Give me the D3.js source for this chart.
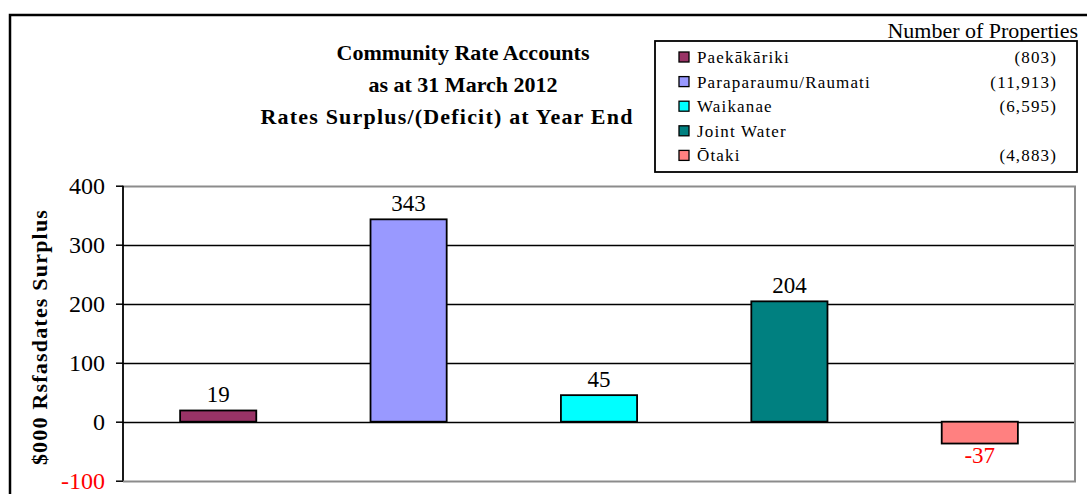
<!DOCTYPE html>
<html><head><meta charset="utf-8">
<script src="https://cdn.jsdelivr.net/npm/d3@7"></script>
<style>body{margin:0;background:#fff}svg{display:block}svg text{font-family:"Liberation Serif","Times New Roman",serif !important}</style>
</head><body><svg id="c" width="1087" height="494"></svg>
<script>
const categories = ["Paekākāriki","Paraparaumu/Raumati","Waikanae","Joint Water","Ōtaki"];
const values = [19, 343, 45, 204, -37];
const properties = ["(803)","(11,913)","(6,595)","","(4,883)"];
const colors = ["#993366","#9999FF","#00FFFF","#008080","#FF8080"];
const yTicks = [-100, 0, 100, 200, 300, 400];
const titleLines = ["Community Rate Accounts","as at 31 March 2012","Rates Surplus/(Deficit) at Year End"];

const FONT = "'Liberation Serif', 'Times New Roman', serif";
const svg = d3.select("#c");
// outer border
svg.append("path").attr("d","M10,1000 V15 H1200").attr("fill","none").attr("stroke","#000").attr("stroke-width",2.5);

const L=123, R=1075, T=185.7, B=480.7;
const x = d3.scaleBand().domain(categories).range([L,R]).paddingInner(0.6).paddingOuter(0.3);
const y = d3.scaleLinear().domain([-100,400]).range([B,T]);

// grid
svg.append("g").selectAll("line").data(yTicks.filter(v=>v>-100&&v<400)).join("line")
  .attr("x1",L).attr("x2",R).attr("y1",d=>Math.round(y(d))+0.5).attr("y2",d=>Math.round(y(d))+0.5)
  .attr("stroke","#000").attr("stroke-width",1.3);
// plot border (grey)
svg.append("path").attr("d",`M${L},${Math.round(T)+0.5} H${R} V${Math.round(B)+0.5} H${L}`)
  .attr("fill","none").attr("stroke","#8c8c8c").attr("stroke-width",2);

// bars
svg.append("g").selectAll("rect").data(values).join("rect")
  .attr("x",(d,i)=>x(categories[i])).attr("width",x.bandwidth())
  .attr("y",d=>y(Math.max(0,d))).attr("height",d=>Math.abs(y(d)-y(0)))
  .attr("fill",(d,i)=>colors[i]).attr("stroke","#000").attr("stroke-width",1.8);

// y axis
const ax = svg.append("g").attr("transform",`translate(${L},0)`)
  .call(d3.axisLeft(y).tickValues(yTicks).tickSize(7).tickPadding(11).tickFormat(d=>String(d)));
ax.attr("font-family",null).attr("font-size",null);
ax.select(".domain").attr("stroke","#000").attr("stroke-width",1.8).attr("d",`M0,${T}V${B}`);
ax.selectAll(".tick line").attr("stroke","#000").attr("stroke-width",1.5);
ax.selectAll(".tick text").style("font-size","24px").style("font-family",FONT)
  .attr("fill",d=>d<0?"#ff0000":"#000");

// labels
svg.append("g").selectAll("text").data(values).join("text")
  .attr("x",(d,i)=>x(categories[i])+x.bandwidth()/2)
  .attr("y",d=>d>=0?y(d)-8:y(d)+19)
  .attr("text-anchor","middle").style("font-size","23px").style("font-family",FONT)
  .attr("fill",d=>d<0?"#ff0000":"#000").text(d=>d);

// axis title
svg.append("text").attr("transform","translate(47,337) rotate(-90)").attr("text-anchor","middle")
  .style("font-size","22px").style("font-family",FONT).attr("letter-spacing",1.2).attr("font-weight","bold").text("$000 Rsfasdates Surplus");

// title
const tx=[463,463,447];
const tls=[0,0,1.2];
svg.append("g").selectAll("text").data(titleLines).join("text")
  .attr("x",(d,i)=>tx[i]).attr("y",(d,i)=>60+i*32).attr("text-anchor","middle")
  .attr("letter-spacing",(d,i)=>tls[i])
  .style("font-size","22px").style("font-family",FONT).attr("font-weight","bold").text(d=>d);

// legend
svg.append("text").attr("x",1078).attr("y",38).attr("text-anchor","end").style("font-size","22px").style("font-family",FONT).text("Number of Properties");
svg.append("rect").attr("x",655).attr("y",41).attr("width",422).attr("height",131).attr("fill","#fff").attr("stroke","#000").attr("stroke-width",1.8);
const lg = svg.append("g").selectAll("g").data(categories).join("g")
  .attr("transform",(d,i)=>`translate(0,${57+i*24.6})`);
lg.append("rect").attr("x",679).attr("y",-5).attr("width",10).attr("height",10)
  .attr("fill",(d,i)=>colors[i]).attr("stroke","#000").attr("stroke-width",1.3);
lg.append("text").attr("x",697).attr("y",6).style("font-size","17px").style("font-family",FONT).attr("letter-spacing",1.15).text(d=>d);
lg.append("text").attr("x",1057).attr("y",6).attr("text-anchor","end").style("font-size","17px").style("font-family",FONT).attr("letter-spacing",1.15).text((d,i)=>properties[i]);
</script></body></html>
